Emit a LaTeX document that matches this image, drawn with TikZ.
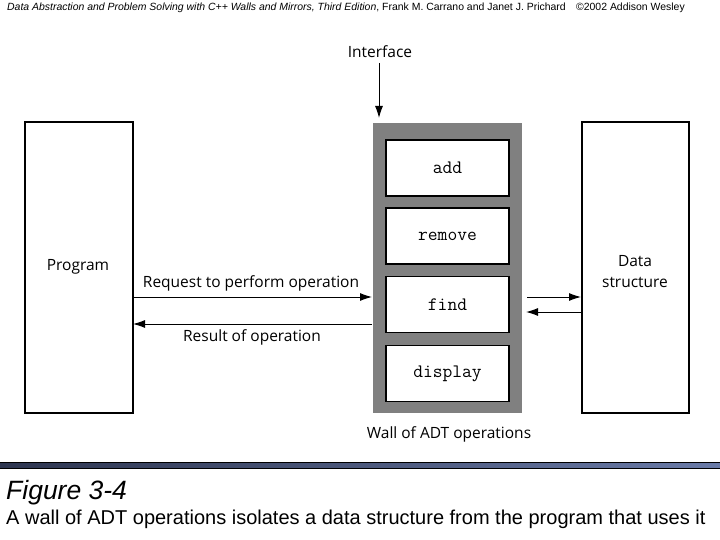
\documentclass[tikz,border=0pt]{standalone}
\usepackage{fontspec}
\setmainfont{Liberation Sans}
\newfontfamily\lblfont{Open Sans}
\usetikzlibrary{arrows.meta}
\definecolor{wallgray}{HTML}{808080}
\definecolor{barA}{HTML}{2E3650}
\definecolor{barB}{HTML}{6A7BA8}
\begin{document}
\begin{tikzpicture}[x=1pt,y=-1pt,
  box/.style={draw=black,line width=1.4pt,fill=white},
  opbox/.style={draw=black,line width=1.4pt,fill=white,minimum width=123pt,minimum height=56pt,inner sep=0pt,font=\ttfamily\fontsize{19}{21}\selectfont},
  lbl/.style={font=\lblfont\fontsize{15.5}{21}\selectfont,inner sep=0pt},
  arr/.style={-{Latex[length=12pt,width=8pt]},line width=1pt}]
\useasboundingbox (0,0) rectangle (720,540);
\fill[white] (0,0) rectangle (720,540);
% header
\node[anchor=west,inner sep=0pt,font=\fontsize{10.45}{12}\selectfont] (hdr) at (7,8) {\textit{Data Abstraction and Problem Solving with C++ Walls and Mirrors, Third Edition}, Frank M. Carrano and Janet J. Prichard\quad \textcopyright2002 Addison Wesley};
% boxes
\node[box,minimum width=108pt,minimum height=291pt,inner sep=0pt] (prog) at (79,267.5) {};
\node[lbl] (progt) at (78,267) {Program};
\node[box,minimum width=107pt,minimum height=291pt,inner sep=0pt] (ds) at (635.5,267.5) {};
\node[lbl,align=center] (dst) at (635,272) {Data\\structure};
% wall
\node[fill=wallgray,minimum width=149pt,minimum height=290pt,inner sep=0pt] (wall) at (447.5,268) {};
\node[opbox] (add) at (447.5,168) {add};
\node[opbox] (remove) at (447.5,236) {remove};
\node[opbox] (find) at (447.5,304.5) {find};
\node[opbox] (display) at (447.5,373.5) {display};
\node[lbl] (wallt) at (449,434) {Wall of ADT operations};
% interface
\node[lbl] (iface) at (380,52) {Interface};
\coordinate (ifaceS) at (379,63);
\coordinate (ifaceE) at (379,118);
\draw[arr] (ifaceS) -- (ifaceE);
% request/result
\coordinate (reqS) at (133,297);
\coordinate (reqE) at (372,297);
\draw[arr] (reqS) -- (reqE);
\node[lbl] (reqt) at (251,283) {Request to perform operation};
\coordinate (resS) at (372,324);
\coordinate (resE) at (133,324);
\draw[arr] (resS) -- (resE);
\node[lbl] (rest) at (252,337) {Result of operation};
% right arrows
\coordinate (r1S) at (527,297);
\coordinate (r1E) at (581,297);
\draw[arr] (r1S) -- (r1E);
\coordinate (r2S) at (581,312);
\coordinate (r2E) at (526,312);
\draw[arr] (r2S) -- (r2E);
% bar
\shade[left color=barA,right color=barB] (0,462) rectangle (720,468);
\draw[black,line width=0.8pt] (0,462) -- (720,462);
\draw[black,line width=0.8pt] (0,468) -- (720,468);
% caption
\node[anchor=west,inner sep=0pt,font=\itshape\fontsize{26.5}{30}\selectfont] (fig) at (6,493) {Figure 3-4};
\node[anchor=west,inner sep=0pt,font=\fontsize{20}{24}\selectfont] (cap) at (6,519) {A wall of ADT operations isolates a data structure from the program that uses it};
\end{tikzpicture}
\end{document}
